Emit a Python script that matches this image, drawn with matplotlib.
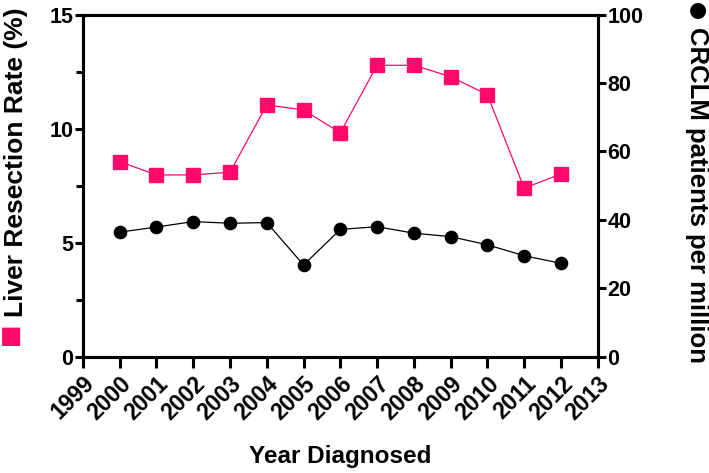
import numpy as np
import matplotlib
matplotlib.use("Agg")
import matplotlib.pyplot as plt

plt.rcParams['font.family'] = ['Liberation Sans', 'DejaVu Sans']
plt.rcParams['font.weight'] = 'bold'

years = [2000, 2001, 2002, 2003, 2004, 2005, 2006, 2007, 2008, 2009, 2010, 2011, 2012]
resection_rate = [8.55, 7.97, 7.97, 8.09, 11.04, 10.82, 9.82, 12.78, 12.78, 12.28, 11.49, 7.39, 8.01]
patients_per_million = [36.4, 37.9, 39.5, 39.0, 39.2, 26.8, 37.2, 38.0, 36.1, 35.1, 32.7, 29.5, 27.3]
year_ticks = list(range(1999, 2014))

pink = '#FF0A6C'

fig = plt.figure(figsize=(7.09, 4.73), dpi=100)
ax = fig.add_axes([0.117, 0.246, 0.726, 0.723])
ax2 = ax.twinx()

ax.plot(years, resection_rate, color=pink, lw=0.9, marker='s', ms=9.5,
        mec=pink, mfc=pink, zorder=3)
ax2.plot(years, patients_per_million, color='black', lw=0.9, marker='o', ms=8.8,
         zorder=3)

ax.set_xlim(1999, 2013)
ax.set_ylim(0, 15)
ax2.set_ylim(0, 100)
ax.set_xticks(year_ticks)
ax.set_xticklabels([str(y) for y in year_ticks], rotation=45, ha='right',
                   rotation_mode='anchor', fontsize=16.5, fontweight='bold')
ax.set_yticks([0, 5, 10, 15])
ax.set_yticks([2.5, 7.5, 12.5], minor=True)
ax2.set_yticks([0, 20, 40, 60, 80, 100])

for a in (ax, ax2):
    for s in a.spines.values():
        s.set_linewidth(2.2)
    a.tick_params(which='major', length=6, width=2.2, labelsize=15.5, pad=1)
    a.tick_params(which='minor', length=5, width=2.2)
ax.tick_params(axis='x', length=8, pad=3, labelsize=16.5)

ax.set_xlabel('Year Diagnosed', fontsize=17.5, fontweight='bold', labelpad=15)

fig.text(0.022, 1 - 317 / 473, 'Liver Resection Rate (%)', rotation=90,
         ha='center', va='bottom', fontsize=19, fontweight='bold')
fig.text(0.015, 1 - 336 / 473, '\u25A0', color=pink, ha='center', va='center',
         fontsize=17, family=['DejaVu Sans'])
fig.text(0.983, 1 - 27 / 473, 'CRCLM patients per million', rotation=-90,
         ha='center', va='top', fontsize=18.5, fontweight='bold')
fig.text(0.985, 1 - 10 / 473, '\u25CF', color='black', ha='center', va='center',
         fontsize=15, family=['DejaVu Sans'])

fig.savefig('out.png', dpi=100)
